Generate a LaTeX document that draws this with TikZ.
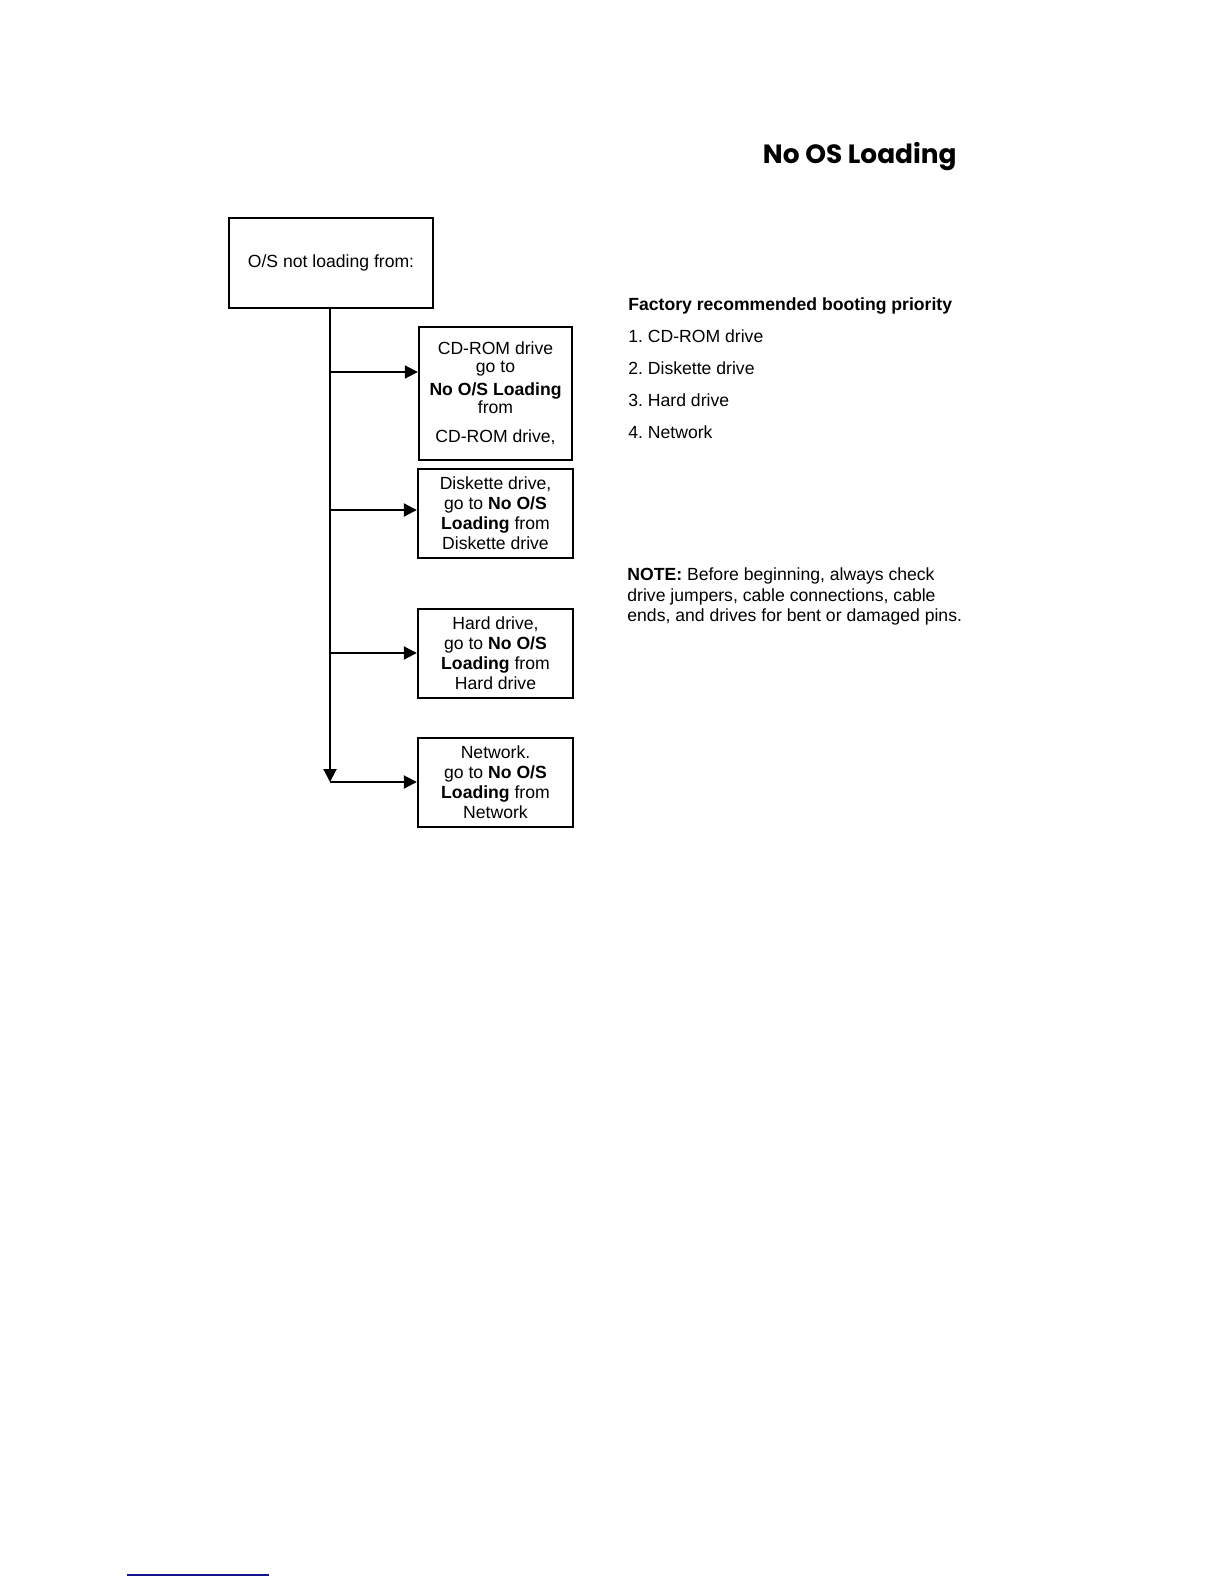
\documentclass[tikz,border=0pt]{standalone}
\usepackage{fontspec}
\setmainfont{Liberation Sans}
\newfontfamily\titlefont{Poppins}
\usetikzlibrary{arrows.meta}
\definecolor{linkblue}{RGB}{20,20,140}
\frenchspacing
\tikzset{
  flowbox/.style={draw, line width=1.2pt, align=center, inner sep=0pt, font=\fontsize{8.8}{10}\selectfont},
  flowarrow/.style={line width=1pt, -{Triangle[length=6.5pt,width=6.5pt]}},
  sidetext/.style={anchor=base west, inner sep=0pt, font=\fontsize{8.8}{10}\selectfont},
}
\begin{document}
\begin{tikzpicture}[x=0.5pt, y=-0.5pt]
    \useasboundingbox (0,0) rectangle (1224,1584);

    % 标题
    \node[anchor=base east, inner sep=0pt, font=\titlefont\bfseries\fontsize{13.2}{15}\selectfont] (title) at (957,163) {No OS Loading};

    % 流程框
    \node[flowbox, minimum width=102pt, minimum height=45pt] (start) at (331,263) {O/S not loading from:};
    \node[flowbox, minimum width=76.5pt, minimum height=66.5pt] (cd) at (495.5,393.5)
        {CD-ROM drive\\[-1pt]go to\\[1.5pt]\textbf{No O/S Loading}\\[-1pt]from\\[4.5pt]CD-ROM drive,};
    \node[flowbox, minimum width=77.5pt, minimum height=44.5pt] (disk) at (495.5,513.5)
        {Diskette drive,\\go to \textbf{No O/S}\\\textbf{Loading} from\\Diskette drive};
    \node[flowbox, minimum width=77.5pt, minimum height=44.5pt] (hdd) at (495.5,653.5)
        {Hard drive,\\go to \textbf{No O/S}\\\textbf{Loading} from\\Hard drive};
    \node[flowbox, minimum width=77.5pt, minimum height=44.5pt] (net) at (495.5,782.5)
        {Network.\\go to \textbf{No O/S}\\\textbf{Loading} from\\Network};

    % 箭头
    \coordinate (j1) at (330,372);
    \coordinate (j2) at (330,510);
    \coordinate (j3) at (330,653);
    \coordinate (j4) at (330,782);
    \draw[flowarrow] (start.south -| j1) -- (j4);
    \foreach \j/\b in {j1/cd, j2/disk, j3/hdd, j4/net}
        \draw[flowarrow] (\j) -- (\j -| \b.west);

    % 右侧说明
    \node[sidetext, font=\fontsize{8.8}{10}\selectfont\bfseries] (prio) at (628,310) {Factory recommended booting priority};
    \foreach \i/\t in {1/CD-ROM drive, 2/Diskette drive, 3/Hard drive, 4/Network}
        \node[sidetext] (prio\i) at (628,310+32*\i) {\i. \t};

    \node[sidetext] (note1) at (627,580) {\textbf{NOTE:} Before beginning, always check};
    \node[sidetext] (note2) at (627,601) {drive jumpers, cable connections, cable};
    \node[sidetext] (note3) at (627,621) {ends, and drives for bent or damaged pins.};

    % 页脚线
    \draw[linkblue, line width=0.8pt] (127,1575) -- (269,1575);
\end{tikzpicture}
\end{document}
